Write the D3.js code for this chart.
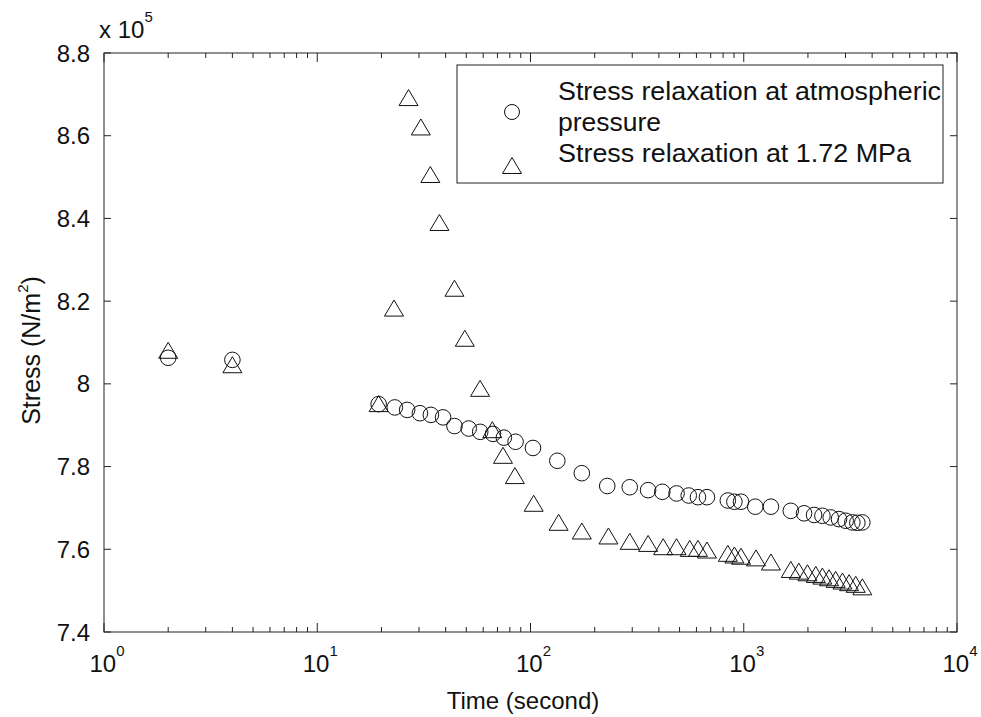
<!DOCTYPE html>
<html>
<head>
<meta charset="utf-8">
<script src="https://cdn.jsdelivr.net/npm/d3@7"></script>
<style>
  html, body { margin: 0; padding: 0; background: #fff; }
  svg { display: block; font-family: Arial, "Liberation Sans", sans-serif; }
</style>
</head>
<body>
<svg id="chart" width="981" height="717"></svg>
<script>
// ---- data (stress in units of 10^5 N/m^2) ----
const atmTime = [2, 4, 19.4, 23.1, 26.4, 30.3, 34.1, 38.9, 44.0, 51.3, 58.1, 66.7, 75.0, 85.1,
  102.7, 133.6, 174, 229, 292, 356, 415, 484, 552, 610, 672, 842, 904, 971, 1132, 1341,
  1662, 1918, 2137, 2338, 2557, 2797, 3006, 3230, 3409, 3598];
const atmStress = [8.063, 8.058, 7.951, 7.943, 7.937, 7.929, 7.925, 7.919, 7.898, 7.892, 7.884, 7.879, 7.870, 7.860,
  7.845, 7.814, 7.784, 7.753, 7.750, 7.743, 7.739, 7.735, 7.730, 7.726, 7.726, 7.718, 7.715, 7.715, 7.703, 7.703,
  7.693, 7.687, 7.683, 7.681, 7.677, 7.673, 7.669, 7.665, 7.664, 7.665];

const mpaTime = [2, 4, 19.4, 22.9, 26.8, 30.6, 33.9, 37.4, 44.0, 49.2, 58.0, 66.2, 74.3, 84.5,
  103.5, 135.5, 174, 232, 292, 356, 419, 484, 558, 610, 672, 842, 904, 971, 1141, 1341,
  1662, 1813, 1990, 2177, 2338, 2512, 2698, 2904, 3119, 3350, 3598];
const mpaStress = [8.08, 8.045, 7.951, 8.182, 8.691, 8.62, 8.505, 8.389, 8.230, 8.109, 7.988, 7.888, 7.826, 7.777,
  7.710, 7.664, 7.643, 7.631, 7.618, 7.613, 7.605, 7.605, 7.601, 7.601, 7.597, 7.589, 7.585, 7.582, 7.578, 7.568,
  7.550, 7.546, 7.542, 7.538, 7.534, 7.530, 7.526, 7.522, 7.518, 7.514, 7.508];

const xTickExponents = [0, 1, 2, 3, 4];
const yTickValues = [7.4, 7.6, 7.8, 8.0, 8.2, 8.4, 8.6, 8.8];
const yTickLabels = ["7.4", "7.6", "7.8", "8", "8.2", "8.4", "8.6", "8.8"];
const seriesNames = ["Stress relaxation at atmospheric", "pressure", "Stress relaxation at 1.72 MPa"];
const xTitle = "Time (second)";
const yTitleMain = "Stress (N/m";
const yTitleSup = "2";
const yTitleEnd = ")";

// ---- layout ----
const svg = d3.select("#chart");
const L = 104, R = 957, T = 53, B = 632;
const axisColor = "#222";
const fontSize = 24;
const supSize = 15;

const x = d3.scaleLog().domain([1, 10000]).range([L, R]);
const y = d3.scaleLinear().domain([7.4, 8.8]).range([B, T]);

// box
svg.append("rect").attr("x", L).attr("y", T).attr("width", R - L).attr("height", B - T)
  .attr("fill", "none").attr("stroke", axisColor).attr("stroke-width", 1);

// x ticks (major + minor), bottom and top, inward
const ticksG = svg.append("g").attr("stroke", axisColor).attr("stroke-width", 1);
const minorTicks = [];
for (let e = 0; e < 4; e++) for (let m = 2; m <= 9; m++) minorTicks.push(m * Math.pow(10, e));
const majorTicks = xTickExponents.map(e => Math.pow(10, e));
majorTicks.forEach(v => {
  ticksG.append("line").attr("x1", x(v)).attr("x2", x(v)).attr("y1", B).attr("y2", B - 9);
  ticksG.append("line").attr("x1", x(v)).attr("x2", x(v)).attr("y1", T).attr("y2", T + 9);
});
minorTicks.forEach(v => {
  ticksG.append("line").attr("x1", x(v)).attr("x2", x(v)).attr("y1", B).attr("y2", B - 5);
  ticksG.append("line").attr("x1", x(v)).attr("x2", x(v)).attr("y1", T).attr("y2", T + 5);
});
yTickValues.forEach(v => {
  ticksG.append("line").attr("x1", L).attr("x2", L + 7).attr("y1", y(v)).attr("y2", y(v));
  ticksG.append("line").attr("x1", R).attr("x2", R - 7).attr("y1", y(v)).attr("y2", y(v));
});

// y tick labels
svg.append("g").selectAll("text").data(yTickValues).join("text")
  .attr("x", L - 14).attr("y", d => y(d)).attr("dy", "0.36em")
  .attr("text-anchor", "end").attr("font-size", fontSize).attr("fill", "#111")
  .text((d, i) => yTickLabels[i]);

// x tick labels 10^n
const xl = svg.append("g");
xTickExponents.forEach(e => {
  const t = xl.append("text").attr("x", x(Math.pow(10, e)) + 3).attr("y", 672)
    .attr("text-anchor", "middle").attr("font-size", fontSize).attr("fill", "#111");
  t.append("tspan").text("10");
  t.append("tspan").attr("font-size", supSize).attr("dy", -16).text(String(e));
});

// exponent label "x 10^5"
const ex = svg.append("text").attr("x", L - 5).attr("y", 38).attr("font-size", fontSize).attr("fill", "#111");
ex.append("tspan").text("x 10");
ex.append("tspan").attr("font-size", supSize).attr("dy", -16).text("5");

// axis titles
svg.append("text").attr("x", 523).attr("y", 709).attr("text-anchor", "middle")
  .attr("font-size", fontSize).attr("fill", "#111").text(xTitle);
const yt = svg.append("text").attr("transform", `translate(40,${(T + B) / 2 + 8}) rotate(-90)`)
  .attr("text-anchor", "middle").attr("font-size", 25).attr("fill", "#111");
yt.append("tspan").text(yTitleMain);
yt.append("tspan").attr("font-size", supSize).attr("dy", -12).text(yTitleSup);
yt.append("tspan").attr("dy", 12).text(yTitleEnd);

// markers
const triPath = "M0,-8.5 L9.5,7.5 L-9.5,7.5 Z";
const marks = svg.append("g").attr("fill", "none").attr("stroke", "#111").attr("stroke-width", 1);
marks.selectAll("circle.atm").data(atmTime.map((t, i) => [t, atmStress[i]])).join("circle")
  .attr("class", "atm").attr("cx", d => x(d[0])).attr("cy", d => y(d[1])).attr("r", 7.8);
marks.selectAll("path.mpa").data(mpaTime.map((t, i) => [t, mpaStress[i]])).join("path")
  .attr("class", "mpa").attr("d", triPath)
  .attr("transform", d => `translate(${x(d[0])},${y(d[1])})`);

// legend
const lg = svg.append("g");
lg.append("rect").attr("x", 457).attr("y", 65).attr("width", 486).attr("height", 118)
  .attr("fill", "#fff").attr("stroke", axisColor).attr("stroke-width", 1);
lg.append("circle").attr("cx", 512).attr("cy", 112).attr("r", 7.5)
  .attr("fill", "none").attr("stroke", "#111");
lg.append("path").attr("d", triPath).attr("transform", "translate(512,166)")
  .attr("fill", "none").attr("stroke", "#111");
const legendLines = [[seriesNames[0], 100, 383], [seriesNames[1], 131, 103], [seriesNames[2], 162, 353]];
legendLines.forEach(([txt, yy, w]) => {
  lg.append("text").attr("x", 558).attr("y", yy).attr("font-size", 25).attr("fill", "#111")
    .attr("textLength", w).attr("lengthAdjust", "spacingAndGlyphs").text(txt);
});
</script>
</body>
</html>
